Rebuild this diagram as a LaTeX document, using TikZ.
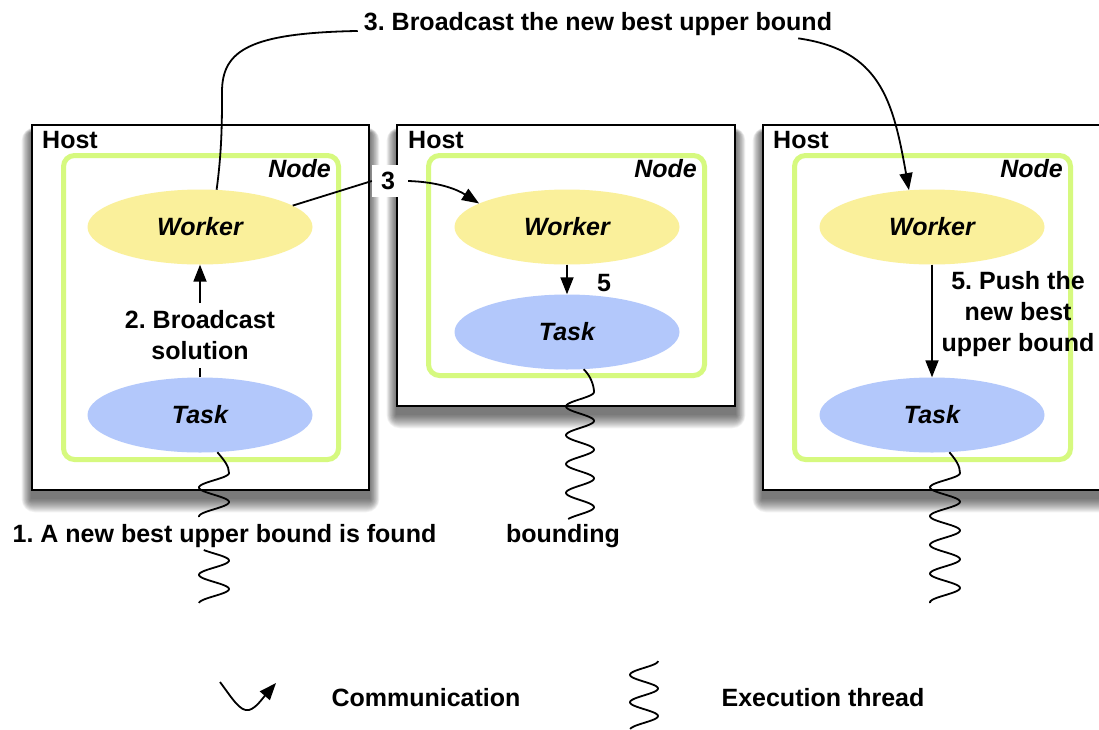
\documentclass[tikz,border=0pt]{standalone}
\usepackage{fontspec}
\setmainfont{Liberation Sans}
\usetikzlibrary{shapes.geometric, arrows.meta}
\frenchspacing

\definecolor{workerfill}{HTML}{FAF09B}
\definecolor{taskfill}{HTML}{B3C8FB}
\definecolor{nodegreen}{HTML}{D6F97F}

\pgfdeclarelayer{background}
\pgfsetlayers{background,main}

\begin{document}
\begin{tikzpicture}[x=1pt, y=-1pt,
  font=\fontsize{25}{31}\selectfont\bfseries,
  host/.style={draw=black, line width=2.5pt, fill=white},
  frame/.style={draw=nodegreen, line width=5pt, rounded corners=11pt},
  worker/.style={ellipse, fill=workerfill, minimum width=225pt, minimum height=75pt, inner sep=0pt,
    font=\fontsize{25}{31}\selectfont\bfseries\itshape},
  task/.style={worker, fill=taskfill},
  hostlbl/.style={anchor=west, inner sep=0pt},
  nodelbl/.style={anchor=east, inner sep=0pt, font=\fontsize{25}{31}\selectfont\bfseries\itshape},
  conn/.style={line width=1.8pt},
  arr/.style={-{Triangle[length=17pt,width=13pt]}},
  thread/.style={line width=1.8pt, line join=round}
]
\useasboundingbox (0,0) rectangle (1099,729);

% hosts
\node[host, minimum width=337pt, minimum height=365pt] (host1) at (200.5,307.5) {};
\node[host, minimum width=338pt, minimum height=281pt] (host2) at (566,265.5) {};
\node[host, minimum width=352pt, minimum height=365pt] (host3) at (939,307.5) {};

% soft drop shadows under the hosts
\begin{pgfonlayer}{background}
  \foreach \h in {host1,host2,host3} {
    \foreach \d in {0,...,13} {
      \fill[black, opacity=0.05, rounded corners=\d pt]
        ([xshift=-0.7*\d pt, yshift=0.4*\d pt-9pt]\h.north west) rectangle
        ([xshift=0.7*\d pt, yshift=-\d pt-8pt]\h.south east);
    }
  }
\end{pgfonlayer}

% node frames
\node[frame, minimum width=275pt, minimum height=304pt] (node1) at (201,307.5) {};
\node[frame, minimum width=276pt, minimum height=220pt] (node2) at (566.5,265.5) {};
\node[frame, minimum width=276pt, minimum height=304pt] (node3) at (932.5,307.5) {};

\node[hostlbl] (hostlbl1) at (42,140) {Host};
\node[hostlbl] (hostlbl2) at (408,140) {Host};
\node[hostlbl] (hostlbl3) at (773,140) {Host};
\node[nodelbl] (nodelbl1) at (331,169) {Node};
\node[nodelbl] (nodelbl2) at (697,169) {Node};
\node[nodelbl] (nodelbl3) at (1063,169) {Node};

% workers and tasks
\node[worker] (worker1) at (200,227) {Worker};
\node[task]   (task1)   at (200,415) {Task};
\node[worker] (worker2) at (567,227) {Worker};
\node[task]   (task2)   at (567,332) {Task};
\node[worker] (worker3) at (932,227) {Worker};
\node[task]   (task3)   at (932,415) {Task};

% step 2: task to worker inside the first node
\node[inner xsep=2pt, inner ysep=7.5pt, align=center] (lbl2) at (200,335.5) {2. Broadcast\\solution};
\draw[conn] (task1) -- (lbl2);
\draw[conn, arr] (lbl2) -- (worker1);

% step 3: worker to worker
\node[fill=white, minimum width=32pt, minimum height=32pt, inner sep=0pt] (lbl3) at (388,181) {3};
\draw[conn] (worker1.13) -- (lbl3.west);
\draw[conn, arr] ([xshift=4pt]lbl3.east) .. controls (440,182) and (458,190) .. (worker2.165);

\node[inner sep=2pt] (lblB) at (598,24.5) {3. Broadcast the new best upper bound};
\draw[conn] (worker1.66) .. controls (222,150) and (222,120) .. (222,92)
  .. controls (222,50) and (250,33) .. ([xshift=-4pt]lblB.base west);
\draw[conn, arr] ([xshift=-36pt]lblB.south east) .. controls (880,50) and (893,100) .. (worker3.122);

% step 5: worker to task
\draw[conn, arr] (worker2) -- (task2);
\node[inner sep=0pt] (lbl5) at (604,283) {5};
\draw[conn, arr] (worker3) -- (task3);
\node[inner sep=0pt, align=center] (lbl5b) at (1018,314.5) {5. Push the\\new best\\upper bound};

% execution threads
\draw[thread] (task1.-65) .. controls (224,460) and (229,466) .. (229,473)
  -- plot[domain=473:517, samples=70, variable=\t] ({214+15*sin((\t-465.75)/29*360)}, \t);
\draw[thread] plot[domain=550:603, samples=70, variable=\t] ({214+15*sin((\t-553.4)/28.5*360)}, \t);
\draw[thread] (task2.-66) .. controls (590,375) and (594,385) .. (594,392)
  -- plot[domain=392:519, samples=150, variable=\t] ({580+14*sin((\t-384.8)/28.8*360)}, \t);
\draw[thread] (task3.-65) .. controls (956,460) and (960,466) .. (960,473)
  -- plot[domain=473:603, samples=150, variable=\t] ({945+15*sin((\t-465.8)/28.75*360)}, \t);

\node[inner sep=0pt] (found) at (224.5,536.5) {1. A new best upper bound is found};
\node[inner sep=0pt] (bounding) at (563,536.5) {bounding};

% legend
\coordinate (commA) at (220,682);
\coordinate (commB) at (276,683);
\draw[conn, arr] (commA) .. controls (232,698) and (240,712) .. (249,710)
  .. controls (256,708) and (262,699) .. (commB);
\node[inner sep=0pt] (legcomm) at (426,698) {Communication};
\draw[thread] plot[domain=661:729, samples=80, variable=\t] ({644+14*sin((\t-654.125)/27.5*360)}, \t);
\node[inner sep=0pt] (legthread) at (823,698) {Execution thread};
\end{tikzpicture}
\end{document}
